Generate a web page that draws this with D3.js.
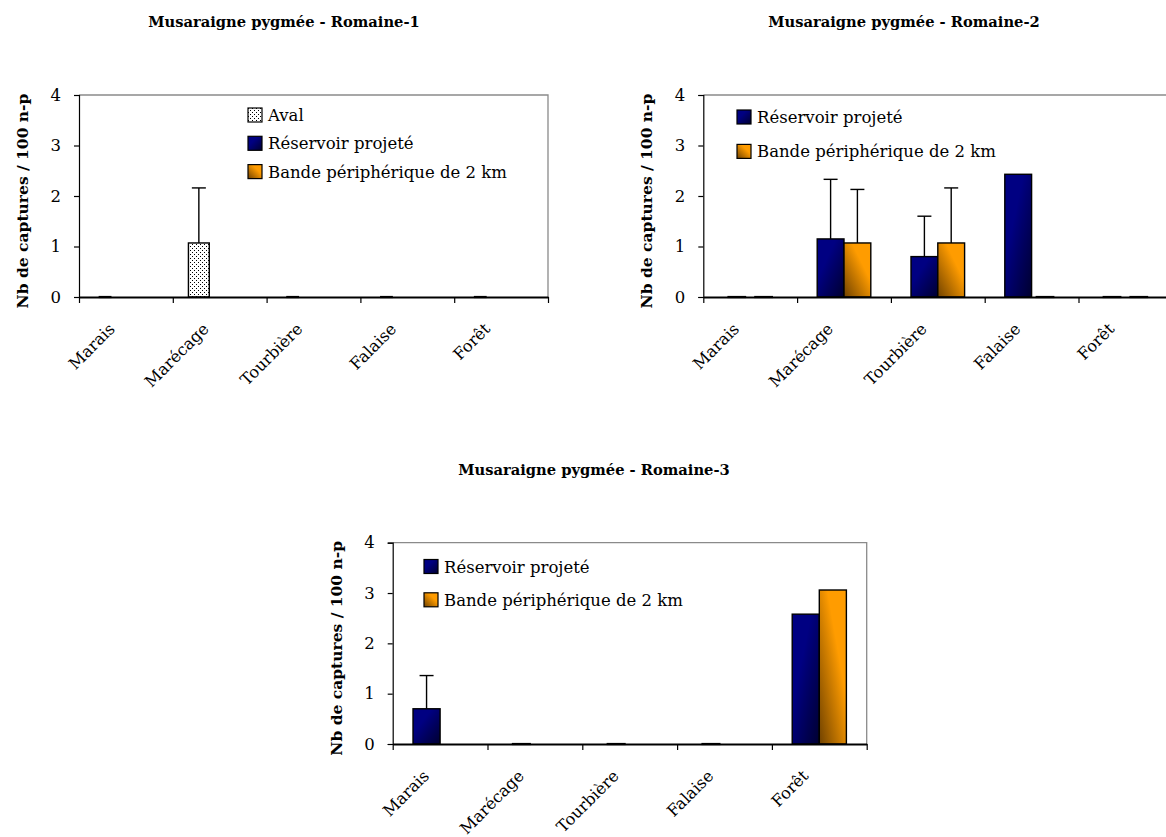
<!DOCTYPE html>
<html>
<head>
<meta charset="utf-8">
<script src="https://cdn.jsdelivr.net/npm/d3@7"></script>
<style>
  html, body { margin: 0; padding: 0; background: #ffffff; }
  svg { display: block; }
  text { font-family: "DejaVu Serif", "Liberation Serif", serif; fill: #000; }
</style>
</head>
<body>
<svg id="chart" width="1166" height="837"></svg>
<script>
// Habitat categories and y-axis ticks shared by all three panels
const categories = ["Marais", "Marécage", "Tourbière", "Falaise", "Forêt"];
const yTickValues = [0, 1, 2, 3, 4];
const yLabel = "Nb de captures / 100 n-p";

const seriesAval = "Aval";
const seriesReservoir = "Réservoir projeté";
const seriesBande = "Bande périphérique de 2 km";

// Romaine-1 (mean captures and upper error)
const aval1 = [0, 1.07, 0, 0, 0];
const aval1Err = [null, 1.09, null, null, null];
const reservoir1 = [null, null, null, null, null];
const bande1 = [null, null, null, null, null];

// Romaine-2
const reservoir2 = [0, 1.15, 0.80, 2.43, 0];
const reservoir2Err = [null, 1.18, 0.80, null, null];
const bande2 = [0, 1.07, 1.07, 0, 0];
const bande2Err = [null, 1.06, 1.09, null, null];

// Romaine-3
const reservoir3 = [0.70, 0, 0, 0, 2.58];
const reservoir3Err = [0.66, null, null, null, null];
const bande3 = [null, null, null, null, 3.06];

const titles = [
  "Musaraigne pygmée - Romaine-1",
  "Musaraigne pygmée - Romaine-2",
  "Musaraigne pygmée - Romaine-3"
];

const svg = d3.select("#chart");
const defs = svg.append("defs");

// Fills: dotted pattern, navy and orange shaded gradients
const dots = defs.append("pattern").attr("id", "dots")
  .attr("patternUnits", "userSpaceOnUse").attr("width", 4).attr("height", 4);
dots.append("rect").attr("width", 4).attr("height", 4).attr("fill", "#ffffff");
dots.append("rect").attr("x", 0).attr("y", 0).attr("width", 1).attr("height", 1).attr("fill", "#000");
dots.append("rect").attr("x", 2).attr("y", 2).attr("width", 1).attr("height", 1).attr("fill", "#000");

const navy = defs.append("linearGradient").attr("id", "navyGrad")
  .attr("x1", 0).attr("y1", 0).attr("x2", 1).attr("y2", 1);
navy.append("stop").attr("offset", "0.35").attr("stop-color", "#000082");
navy.append("stop").attr("offset", "1").attr("stop-color", "#000030");

const orange = defs.append("linearGradient").attr("id", "orangeGrad")
  .attr("x1", 1).attr("y1", 0).attr("x2", 0).attr("y2", 1);
orange.append("stop").attr("offset", "0.35").attr("stop-color", "#ff9c00");
orange.append("stop").attr("offset", "1").attr("stop-color", "#704200");

const fills = {};
fills[seriesAval] = "url(#dots)";
fills[seriesReservoir] = "url(#navyGrad)";
fills[seriesBande] = "url(#orangeGrad)";

const panels = [
  {
    title: titles[0], titleX: 284, titleY: 27,
    x0: 79, x1: 548, yTop: 95, yBase: 297, yLabelX: 28,
    series: [
      { name: seriesAval, values: aval1, err: aval1Err },
      { name: seriesReservoir, values: reservoir1, err: null },
      { name: seriesBande, values: bande1, err: null }
    ],
    legend: { x: 248, y: 108, gap: 28.3 }
  },
  {
    title: titles[1], titleX: 904, titleY: 27,
    x0: 703.3, x1: 1172.3, yTop: 95, yBase: 297, yLabelX: 652,
    series: [
      { name: seriesReservoir, values: reservoir2, err: reservoir2Err },
      { name: seriesBande, values: bande2, err: bande2Err }
    ],
    legend: { x: 737, y: 110, gap: 34.4 }
  },
  {
    title: titles[2], titleX: 594, titleY: 475,
    x0: 392.7, x1: 866.7, yTop: 542.7, yBase: 744, yLabelX: 342,
    series: [
      { name: seriesReservoir, values: reservoir3, err: reservoir3Err },
      { name: seriesBande, values: bande3, err: null }
    ],
    legend: { x: 424, y: 559.5, gap: 33.3 }
  }
];

panels.forEach(p => {
  const g = svg.append("g");

  const x = d3.scaleBand().domain(categories).range([p.x0, p.x1]).paddingInner(0).paddingOuter(0);
  const sub = d3.scaleBand().domain(d3.range(p.series.length))
    .range([0, x.bandwidth()]).paddingInner(0).paddingOuter(0.75);
  const y = d3.scaleLinear().domain([0, 4]).range([p.yBase, p.yTop]);

  // Title
  g.append("text").attr("x", p.titleX).attr("y", p.titleY)
    .attr("text-anchor", "middle").attr("font-weight", "bold").attr("font-size", 14.7)
    .text(p.title);

  // Plot frame (top and right edges)
  g.append("path")
    .attr("d", `M${p.x0},${p.yTop}H${p.x1}V${p.yBase}`)
    .attr("fill", "none").attr("stroke", "#8a8a8a").attr("stroke-width", 1.3);

  // Bars
  p.series.forEach((s, si) => {
    categories.forEach((c, ci) => {
      const v = s.values[ci];
      if (v === null || v === undefined) return;
      const bx = x(c) + sub(si);
      const bw = sub.bandwidth();
      if (v === 0) {
        g.append("line")
          .attr("x1", bx + 4).attr("x2", bx + bw - 4)
          .attr("y1", y(0)).attr("y2", y(0))
          .attr("stroke", "#000").attr("stroke-width", 2.2);
        return;
      }
      g.append("rect")
        .attr("x", bx).attr("y", y(v))
        .attr("width", bw).attr("height", y(0) - y(v))
        .attr("fill", fills[s.name])
        .attr("stroke", "#000").attr("stroke-width", 1.4);
    });
  });

  // Upper error bars
  p.series.forEach((s, si) => {
    if (!s.err) return;
    categories.forEach((c, ci) => {
      const e = s.err[ci];
      const v = s.values[ci];
      if (e === null || e === undefined || v === null) return;
      const cx = x(c) + sub(si) + sub.bandwidth() / 2;
      g.append("line").attr("x1", cx).attr("x2", cx)
        .attr("y1", y(v)).attr("y2", y(v + e))
        .attr("stroke", "#000").attr("stroke-width", 1.4);
      g.append("line").attr("x1", cx - 7).attr("x2", cx + 7)
        .attr("y1", y(v + e)).attr("y2", y(v + e))
        .attr("stroke", "#000").attr("stroke-width", 1.4);
    });
  });

  // Y axis
  const yAxis = g.append("g").attr("transform", `translate(${p.x0},0)`)
    .call(d3.axisLeft(y).tickValues(yTickValues).tickSize(5).tickPadding(13).tickFormat(d3.format("d")));
  yAxis.select(".domain").attr("stroke", "#000").attr("stroke-width", 1.2);
  yAxis.selectAll(".tick line").attr("stroke", "#000").attr("stroke-width", 1.2);
  yAxis.selectAll(".tick text").attr("font-family", "DejaVu Serif").attr("font-size", 16.5).attr("fill", "#000");

  // X axis: ticks between categories
  const xEdges = d3.scaleLinear().domain([0, categories.length]).range([p.x0, p.x1]);
  const xAxis = g.append("g").attr("transform", `translate(0,${p.yBase})`)
    .call(d3.axisBottom(xEdges).ticks(categories.length).tickSizeInner(6).tickSizeOuter(0).tickFormat(""));
  xAxis.select(".domain").attr("stroke", "#000").attr("stroke-width", 1.8);
  xAxis.selectAll(".tick line").attr("stroke", "#000").attr("stroke-width", 1.2);

  // Category labels, rotated
  categories.forEach(c => {
    const cx = x(c) + x.bandwidth() / 2 - 10;
    const cy = p.yBase + 33;
    g.append("text")
      .attr("transform", `translate(${cx},${cy}) rotate(-45)`)
      .attr("text-anchor", "end").attr("font-size", 16.2)
      .text(c);
  });

  // Y label
  g.append("text")
    .attr("transform", `translate(${p.yLabelX},${(p.yTop + p.yBase) / 2 + 5}) rotate(-90)`)
    .attr("text-anchor", "middle").attr("font-weight", "bold").attr("font-size", 15.5)
    .text(yLabel);

  // Legend
  p.series.forEach((s, i) => {
    const ly = p.legend.y + i * p.legend.gap;
    g.append("rect").attr("x", p.legend.x).attr("y", ly)
      .attr("width", 14).attr("height", 14)
      .attr("fill", fills[s.name]).attr("stroke", "#000").attr("stroke-width", 1.2);
    g.append("text").attr("x", p.legend.x + 20).attr("y", ly + 13)
      .attr("font-size", 16.5).text(s.name);
  });
});
</script>
</body>
</html>
